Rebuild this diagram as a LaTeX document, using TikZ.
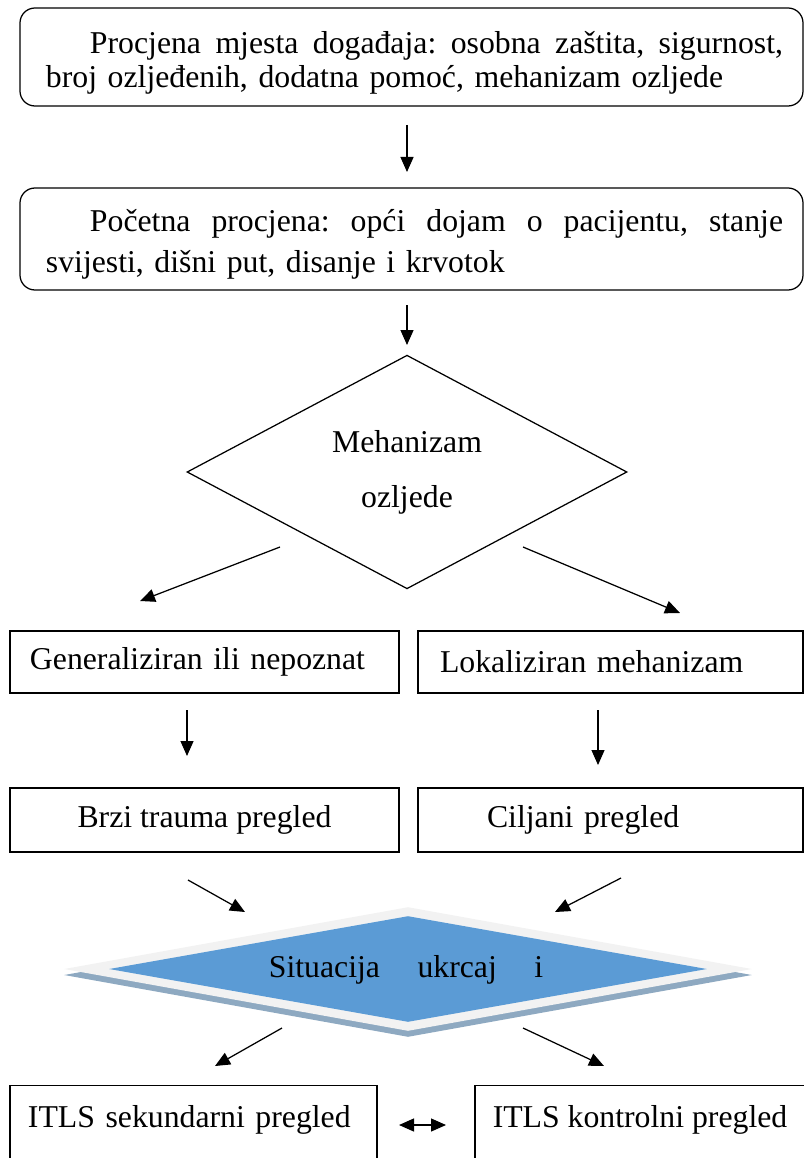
\documentclass[tikz,border=0pt]{standalone}
\usepackage{fontspec}
\setmainfont{Liberation Serif}
\usetikzlibrary{shapes.geometric,arrows.meta}
\definecolor{sitblue}{HTML}{5B9BD5}
\definecolor{bevelgray}{HTML}{F2F2F2}
\definecolor{shadowblue}{HTML}{8EA9C1}
\newcommand{\fullline}[1]{\makebox[277.2pt][s]{\frenchspacing\spaceskip=0.25em plus 1fil #1}}

\begin{document}
\begin{tikzpicture}[x=0.4pt,y=-0.4pt,
        font=\fontsize{12.7}{13.5}\selectfont,
        >={Triangle[length=6pt,width=5.2pt]},
        arr/.style={->,line width=0.5pt},
        roundbox/.style={draw,line width=0.5pt,rounded corners=6pt,minimum width=313.2pt,inner sep=0pt},
        roundtext/.style={text width=294.8pt,align=left,inner sep=0pt},
        sqbox/.style={draw,line width=0.5pt,inner xsep=0pt},
        flatdiamond/.style={diamond,inner sep=0pt}]
        \useasboundingbox (0,0) rectangle (804,1158);
        \clip (0,0) rectangle (804,1158);

        % Scene and initial assessment
        \node[roundbox,minimum height=39.2pt] (scene) at (411.5,57) {};
        \node[roundtext] (scenetext) at (414.5,63)
            {\hspace*{17.6pt}\fullline{Procjena mjesta događaja: osobna zaštita, sigurnost,}\\
            broj ozljeđenih, dodatna pomoć, mehanizam ozljede};
        \node[roundbox,minimum height=40.8pt] (initial) at (411.5,239) {};
        \node[roundtext] (initialtext) at (414.5,244)
            {\hspace*{17.6pt}\fullline{Početna procjena: opći dojam o pacijentu, stanje}\\[3pt]
            svijesti, dišni put, disanje i krvotok};

        % Mechanism decision
        \node[draw,flatdiamond,line width=0.5pt,minimum width=176pt,minimum height=90.4pt,align=center]
            (mechanism) at (407,472) {Mehanizam\\[8.5pt]ozljede};

        % Generalized / localized branch
        \node[sqbox,minimum width=155.6pt,minimum height=24.8pt,text width=139.6pt,align=left,inner xsep=8pt]
            (general) at (204.5,662) {Generaliziran ili nepoznat};
        \node[sqbox,minimum width=154pt,minimum height=24.8pt,text width=136.4pt,align=left,inner xsep=8.8pt]
            (local) at (610.5,662) {Lokaliziran mehanizam};
        \node[sqbox,minimum width=155.6pt,minimum height=25.6pt] (rapid) at (204.5,820)
            {Brzi trauma pregled};
        \node[sqbox,minimum width=154pt,minimum height=25.6pt,text width=98.8pt,align=left,inner xsep=27.6pt]
            (focused) at (610.5,820) {Ciljani pregled};

        % Situation diamond with bevel
        \node[flatdiamond,fill=shadowblue,minimum width=275.2pt,minimum height=49.6pt] (sitshadow) at (408,975) {};
        \node[flatdiamond,fill=bevelgray,minimum width=275.2pt,minimum height=49.6pt] (sitbevel) at (408,969) {};
        \node[flatdiamond,fill=sitblue,minimum width=239.2pt,minimum height=42.4pt] (situation) at (408,969) {};
        \node[inner sep=0pt] (situationtext) at (406,970) {Situacija\hspace{15pt}ukrcaj\hspace{15pt}i};

        % Secondary and ongoing exam
        \node[sqbox,minimum width=146.8pt,text width=132.4pt,align=left,inner xsep=7.2pt,anchor=north,
            inner ysep=0pt,text height=16.8pt,text depth=40pt]
            (secondary) at (193.5,1085) {ITLS sekundarni pregled};
        \node[sqbox,minimum width=132pt,anchor=north,inner ysep=0pt,text height=16.8pt,text depth=40pt]
            (ongoing) at (640,1085) {ITLS kontrolni pregled};

        % Arrow ends
        \coordinate (a1s) at (407,125);  \coordinate (a1e) at (407,172);
        \coordinate (a2s) at (407,305);  \coordinate (a2e) at (407,345);
        \coordinate (a3s) at (280,547);  \coordinate (a3e) at (140,601);
        \coordinate (a4s) at (523,547);  \coordinate (a4e) at (680,613);
        \coordinate (a5s) at (187,710);  \coordinate (a5e) at (187,756);
        \coordinate (a6s) at (598,710);  \coordinate (a6e) at (598,765);
        \coordinate (a7s) at (188,880);  \coordinate (a7e) at (245,912);
        \coordinate (a8s) at (621,878);  \coordinate (a8e) at (555,912);
        \coordinate (a9s) at (282,1028); \coordinate (a9e) at (215,1066);
        \coordinate (a10s) at (523,1028); \coordinate (a10e) at (604,1066);
        \coordinate (a11s) at (399,1125); \coordinate (a11e) at (446,1125);

        % Arrows
        \draw[arr] (a1s) -- (a1e);
        \draw[arr] (a2s) -- (a2e);
        \draw[arr] (a3s) -- (a3e);
        \draw[arr] (a4s) -- (a4e);
        \draw[arr] (a5s) -- (a5e);
        \draw[arr] (a6s) -- (a6e);
        \draw[arr] (a7s) -- (a7e);
        \draw[arr] (a8s) -- (a8e);
        \draw[arr] (a9s) -- (a9e);
        \draw[arr] (a10s) -- (a10e);
        \draw[arr,<->] (a11s) -- (a11e);
\end{tikzpicture}
\end{document}
